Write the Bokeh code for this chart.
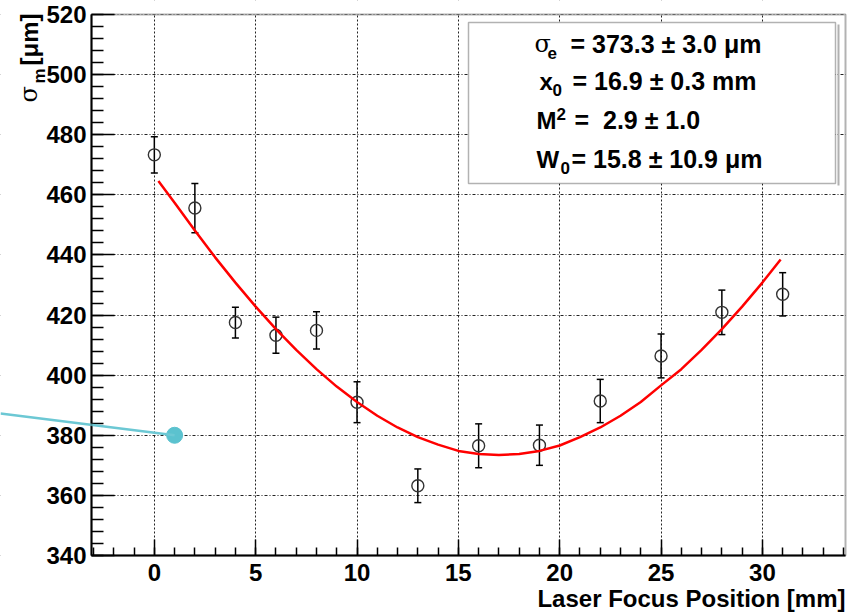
from bokeh.plotting import figure
from bokeh.models import (ColumnDataSource, Whisker, TeeHead, Label, BoxAnnotation,
                          Arrow, SingleIntervalTicker, Range1d)
from bokeh.embed import file_html
from bokeh.resources import INLINE

# ---------------- data ----------------
positions = [0, 2, 4, 6, 8, 10, 13, 16, 19, 22, 25, 28, 31]
sigma_m = [473.3, 455.6, 417.5, 413.3, 414.9, 391.0, 363.2, 376.5, 376.7, 391.4, 406.4, 420.9, 426.9]
sigma_err = [6.0, 8.2, 5.1, 6.0, 6.2, 6.8, 5.6, 7.3, 6.7, 7.2, 7.3, 7.4, 7.2]

fit_x = [0.2, 1, 2, 3, 4, 5, 6, 7, 8, 9, 10, 11, 12, 13, 14, 15, 16, 17, 18, 19, 20,
         21, 22, 23, 24, 25, 26, 27, 28, 29, 30, 30.9]
fit_y = [464.6, 457.4, 448.1, 439.2, 430.8, 422.8, 415.3, 408.4, 402.0, 396.2, 391.1,
         386.5, 382.6, 379.4, 376.9, 374.8, 373.8, 373.4, 373.8, 374.8, 376.6, 379.4,
         382.6, 386.5, 391.1, 396.6, 402.0, 408.4, 415.3, 422.8, 430.8, 438.5]

marker_x = [1.0]
marker_y = [380.0]

NB = "\u00a0"
stat_lines = [
    ("\u03c3", "e", "sub", "= 373.3 \u00b1 3.0 \u03bcm"),
    ("x", "0", "sub", "= 16.9 \u00b1 0.3 mm"),
    ("M", "2", "sup", "=" + NB + " 2.9 \u00b1 1.0"),
    ("W", "0", "sub", "= 15.8 \u00b1 10.9 \u03bcm"),
]

# ---------------- layout (pixels of the page) ----------------
W, H = 853, 613
XA, XB = -3.1, 34.1          # visible axis span
YA, YB = 340, 520
L, R, T, B = 91, 845, 14, 555  # pixel edges of the plot box
FONT = "Liberation Sans"
BASE_FIX = 0.35               # baseline correction (fraction of font size)

sx = (R - L) / (XB - XA)
sy = (B - T) / (YB - YA)
x_lo, x_hi = XA - L / sx, XB + (W - R) / sx
y_lo, y_hi = YA - (H - B) / sy, YB + T / sy


def px(page_x):
    return x_lo + page_x / sx


def py(page_y):
    return y_hi - page_y / sy


def label(page_x, page_y, text, size, font=FONT, style="bold", align="left", rotated=False):
    if rotated:
        x, y, ang = px(page_x - BASE_FIX * size), py(page_y), 1.5708
    else:
        x, y, ang = px(page_x), py(page_y - BASE_FIX * size), 0.0
    p.add_layout(Label(x=x, y=y, text=text, angle=ang, text_font=font, text_font_style=style,
                       text_font_size=f"{size}px", text_align=align,
                       text_baseline="alphabetic", text_color="black"))


p = figure(width=W, height=H, x_range=Range1d(x_lo, x_hi), y_range=Range1d(y_lo, y_hi),
           output_backend="svg", toolbar_location=None,
           min_border_left=0, min_border_right=0, min_border_top=0, min_border_bottom=0,
           background_fill_color="white", border_fill_color="white",
           outline_line_color=None)

p.xaxis.ticker = SingleIntervalTicker(interval=5, num_minor_ticks=5)
p.yaxis.ticker = SingleIntervalTicker(interval=20, num_minor_ticks=5)
p.xaxis.fixed_location = YA
p.yaxis.fixed_location = XA
p.xaxis.bounds = (XA, XB)
p.yaxis.bounds = (YA, YB)
for ax in (p.xaxis, p.yaxis):
    ax.major_tick_out = 0
    ax.minor_tick_out = 0
    ax.major_tick_line_color = "black"
    ax.minor_tick_line_color = "black"
    ax.major_tick_line_width = 1.5
    ax.minor_tick_line_width = 1.5
    ax.axis_line_color = "black"
    ax.axis_line_width = 2
    ax.major_label_text_font = FONT
    ax.major_label_text_font_style = "bold"
    ax.major_label_text_font_size = "24px"
    ax.major_label_text_color = "black"
p.xaxis.major_tick_in = 16
p.xaxis.minor_tick_in = 8
p.yaxis.major_tick_in = 23
p.yaxis.minor_tick_in = 12
p.xaxis.major_label_standoff = 8
p.yaxis.major_label_standoff = 5

p.xgrid.bounds = (XA, XB)
p.ygrid.bounds = (YA, YB)
p.xgrid.grid_line_color = "#222222"
p.xgrid.grid_line_dash = "2 2"
p.ygrid.grid_line_color = "#222222"
p.ygrid.grid_line_dash = "3 2 1 2"

# white margins hide the grid outside the plot box
for kw in (dict(right=XA), dict(left=XB), dict(top=YA), dict(bottom=YB)):
    p.add_layout(BoxAnnotation(level="underlay", fill_color="white", fill_alpha=1,
                               line_color=None, **kw))

# ---------------- data glyphs ----------------
src = ColumnDataSource(dict(
    x=positions, y=sigma_m,
    upper=[v + e for v, e in zip(sigma_m, sigma_err)],
    lower=[v - e for v, e in zip(sigma_m, sigma_err)],
))
p.add_layout(Whisker(source=src, base="x", upper="upper", lower="lower",
                     line_color="black", line_width=1.5,
                     upper_head=TeeHead(size=7, line_color="black", line_width=1.5),
                     lower_head=TeeHead(size=7, line_color="black", line_width=1.5)))
p.scatter("x", "y", source=src, marker="circle", size=12, fill_color=None,
          line_color="#333333", line_width=1.4)

p.line(fit_x, fit_y, line_color="#ff0000", line_width=2.5)

p.add_layout(Arrow(end=None, x_start=px(0), y_start=py(413), x_end=marker_x[0], y_end=marker_y[0],
                   line_color="#6cc8d4", line_width=2.5))
p.scatter(marker_x, marker_y, marker="circle", size=16, fill_color="#5bc2cf",
          line_color="#5bc2cf")

# plot box border
p.add_layout(BoxAnnotation(left=XA, right=XB, bottom=YA, top=YB, fill_color=None,
                           fill_alpha=0, line_color="black", line_width=2))

# ---------------- stats box ----------------
p.add_layout(BoxAnnotation(left=px(837), right=px(839), top=py(24), bottom=py(185),
                           fill_color="#b0b0b0", fill_alpha=1, line_color=None))
p.add_layout(BoxAnnotation(left=px(468), right=px(835), top=py(22), bottom=py(183),
                           fill_color="white", fill_alpha=1, line_color="black", line_width=1.5))

baselines = [52, 89, 128, 167]
sym_x = [534, 539, 536, 536]
small_x = [547, 552, 556, 560]
main_x = [570, 572, 574, 571]
for (sym, small, kind, rest), b, sxp, smx, mx in zip(stat_lines, baselines, sym_x, small_x, main_x):
    if sym == "\u03c3":
        label(sxp, b, sym, 24, font="DejaVu Serif", style="normal")
    else:
        label(sxp, b, sym, 24)
    off = 6 if kind == "sub" else -9
    label(smx, b + off, small, 17)
    label(mx, b, rest, 25)

# ---------------- axis titles ----------------
label(845, 606, "Laser Focus Position [mm]", 24, align="right")
label(37, 102, "\u03c3", 24, font="DejaVu Serif", style="normal", rotated=True)
label(45, 83, "m", 17, rotated=True)
label(37, 65, "[\u03bcm]", 24, rotated=True)

open("out.html", "w").write(file_html(p, INLINE))
